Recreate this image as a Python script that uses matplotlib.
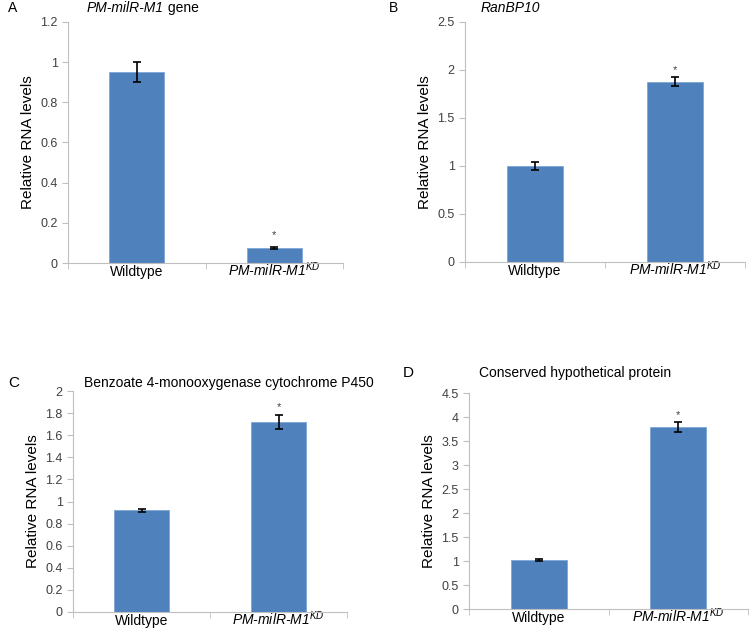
import numpy as np
import matplotlib.pyplot as plt
from matplotlib.ticker import FuncFormatter, MultipleLocator

plt.rcParams['font.family'] = ['Liberation Sans', 'DejaVu Sans']
plt.rcParams['mathtext.fontset'] = 'custom'
plt.rcParams['mathtext.rm'] = 'Liberation Sans'
plt.rcParams['mathtext.it'] = 'Liberation Sans:italic'

groups = ['Wildtype', 'PM-milR-M1$^{KD}$']

vals_a = [0.95, 0.075]
err_a = [0.05, 0.003]
vals_b = [1.0, 1.88]
err_b = [0.045, 0.045]
vals_c = [0.92, 1.72]
err_c = [0.015, 0.06]
vals_d = [1.02, 3.79]
err_d = [0.02, 0.10]

W, H = 753, 630
fig = plt.figure(figsize=(W / 100, H / 100), dpi=100)

def px_axes(l, r, t, b):
    return fig.add_axes([l / W, (H - b) / H, (r - l) / W, (b - t) / H])

gray = '#BFBFBF'
blue = '#4F81BD'

def panel(ax, vals, errs, ymax, step, star_off):
    x = np.arange(len(vals))
    ax.bar(x, vals, width=0.4, color=blue, edgecolor='#7EA6D8', linewidth=0.6)
    ax.errorbar(x, vals, yerr=errs, fmt='none', ecolor='black', elinewidth=1.2,
                capsize=3, capthick=1.2)
    ax.text(1, vals[1] + errs[1] + star_off, '*', ha='center', va='center',
            fontsize=8, color='#404040')
    ax.set_xlim(-0.5, 1.5)
    ax.set_ylim(0, ymax)
    ax.yaxis.set_major_locator(MultipleLocator(step))
    ax.yaxis.set_major_formatter(FuncFormatter(lambda v, p: '%g' % round(v, 2)))
    ax.set_xticks(x)
    ax.set_xticklabels(groups)
    for lab in ax.get_xticklabels():
        lab.set_va('baseline')
    ax.get_xticklabels()[1].set_fontstyle('italic')
    ax.set_xticks([-0.5, 0.5, 1.5], minor=True)
    ax.tick_params(axis='x', which='major', length=0, labelsize=10, pad=9.5)
    ax.tick_params(axis='x', which='minor', length=4, color=gray, direction='out')
    ax.tick_params(axis='y', length=4, color=gray, labelsize=9, labelcolor='#404040')
    for s in ['top', 'right']:
        ax.spines[s].set_visible(False)
    for s in ['left', 'bottom']:
        ax.spines[s].set_color(gray)
    ax.set_ylabel('Relative RNA levels', fontsize=11)

ax_a = px_axes(68, 343, 22, 263)
panel(ax_a, vals_a, err_a, 1.2, 0.2, 0.06)
ax_b = px_axes(465, 745, 22, 262)
panel(ax_b, vals_b, err_b, 2.5, 0.5, 0.07)
ax_c = px_axes(73, 347, 391, 612)
panel(ax_c, vals_c, err_c, 2.0, 0.2, 0.07)
ax_d = px_axes(469, 748, 393, 609)
panel(ax_d, vals_d, err_d, 4.5, 0.5, 0.16)

def ftext(x, y, s, **kw):
    return fig.text(x / W, 1 - y / H, s, va='center', **kw)

ftext(8, 8, 'A', fontsize=10)
ftext(389, 8, 'B', fontsize=10)
ftext(8, 383, 'C', fontsize=11)
ftext(403, 373, 'D', fontsize=11)

t = ftext(87, 8, 'PM-milR-M1', fontsize=10, style='italic')
fig.canvas.draw()
bb = t.get_window_extent()
fig.text(bb.x1 / W, 1 - 8 / H, ' gene', va='center', fontsize=10)
ftext(481, 8, 'RanBP10', fontsize=10, style='italic')
ftext(229, 383, 'Benzoate 4-monooxygenase cytochrome P450', fontsize=10, ha='center')
ftext(575, 373, 'Conserved hypothetical protein', fontsize=10, ha='center')

fig.savefig('out.png', dpi=100)
